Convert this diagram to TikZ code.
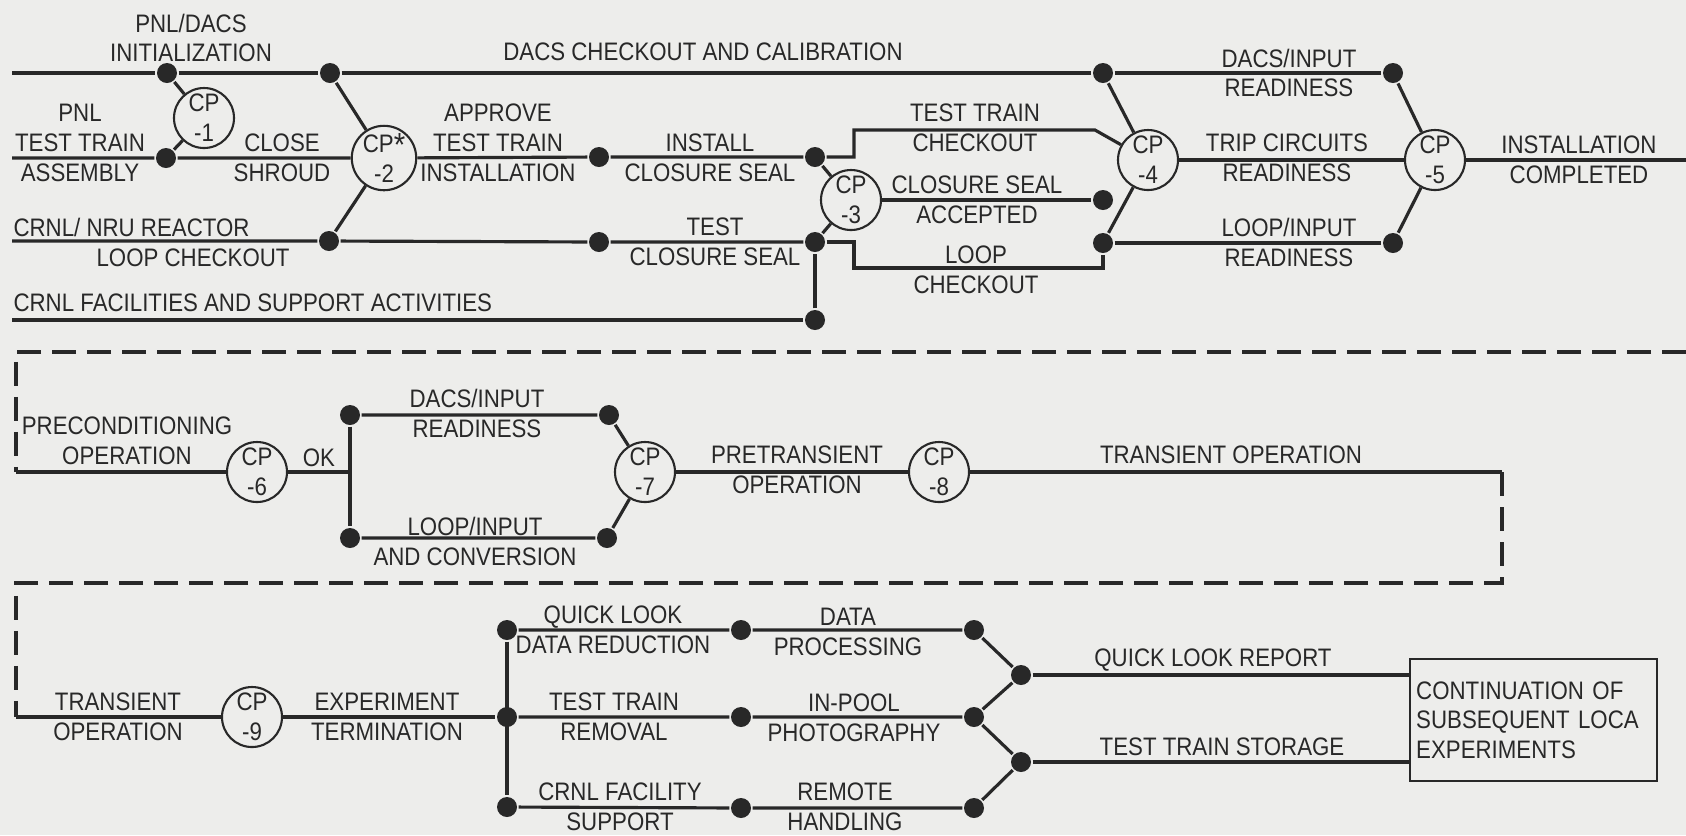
\documentclass[tikz,border=0pt]{standalone}
\usepackage{fontspec}
\newfontfamily\chartfont{Liberation Sans}[FakeStretch=0.88]
\usepackage{tikz}
\definecolor{paper}{RGB}{237,237,235}
\definecolor{ink}{RGB}{40,40,40}

\begin{document}
\begin{tikzpicture}[
  x=0.1mm, y=-0.1mm,
  color=ink, line width=0.9pt,
  txt/.style={font=\chartfont\fontsize{7.2}{8.5}\selectfont, inner sep=0pt, align=center},
  dot/.style={circle, fill=ink, minimum size=2mm, inner sep=0pt},
  cp/.style={txt, circle, draw, line width=0.6pt, fill=paper, minimum size=6mm},
  endbox/.style={txt, draw, line width=0.7pt, align=left, anchor=north west,
                 minimum width=24.7mm, minimum height=12.2mm, text width=23.5mm,
                 inner xsep=0.6mm, inner ysep=1mm},
  dashline/.style={dash pattern=on 2.4mm off 1.1mm},
]
\useasboundingbox[fill=paper] (0,0) rectangle (1686,835);

\coordinate (t0) at (12,73);
\coordinate (m0) at (12,158);
\coordinate (b0) at (12,241);
\coordinate (f0) at (12,320);
\coordinate (out) at (1686,160);
\node[dot] (pnl) at (167,73) {};
\node[dot] (asm) at (166,158) {};
\node[cp] (cp1) at (204,118) {CP\\-1};
\node[dot] (shr) at (330,73) {};
\node[dot] (lck) at (329,241) {};
\node[cp] (cp2) at (384,158) {CP\raisebox{-.3ex}{\fontsize{9.5}{9.5}\selectfont*}\\-2};
\node[dot] (apv) at (599,157) {};
\node[dot] (ins) at (815,157) {};
\node[dot] (tst) at (599,242) {};
\node[dot] (tcs) at (815,242) {};
\node[dot] (fac) at (815,320) {};
\node[cp] (cp3) at (851,200) {CP\\-3};
\node[dot] (acc) at (1103,200) {};
\node[dot] (dac) at (1103,73) {};
\node[dot] (lop) at (1103,243) {};
\node[cp] (cp4) at (1148,160) {CP\\-4};
\node[dot] (dir) at (1393,73) {};
\node[dot] (lir) at (1393,243) {};
\node[cp] (cp5) at (1435,160) {CP\\-5};

\draw (t0) -- (pnl) -- (shr) -- (dac) -- (dir);
\draw (pnl) -- (cp1) -- (asm);
\draw (m0) -- (asm) -- (cp2) -- (apv) -- (ins);
\draw (shr) -- (cp2) -- (lck);
\draw (b0) -- (lck) -- (tst) -- (tcs);
\draw (f0) -- (fac) -- (tcs);
\draw (ins) -- (cp3) -- (tcs);
\draw (cp3) -- (acc);
\draw (ins) -- ++(39,0) -- ++(0,-27) -- ++(241,0) -- (cp4);
\draw (tcs) -- ++(39,0) -- ++(0,26) -| (lop);
\draw (dac) -- (cp4) -- (lop);
\draw (cp4) -- (cp5) -- (out);
\draw (lop) -- (lir);
\draw (dir) -- (cp5) -- (lir);

\node[txt] (l-init) at (191,38) {PNL/DACS\\INITIALIZATION};
\node[txt] (l-cal) at (703,52) {DACS CHECKOUT AND CALIBRATION};
\node[txt] (l-asm) at (80,143) {PNL\\TEST TRAIN\\ASSEMBLY};
\node[txt] (l-shr) at (282,158) {CLOSE\\SHROUD};
\node[txt] (l-apv) at (498,143) {APPROVE\\TEST TRAIN\\INSTALLATION};
\node[txt, anchor=west] (l-nru) at (12,227) {CRNL/ NRU REACTOR};
\node[txt, anchor=west] (l-lck) at (95,258) {LOOP CHECKOUT};
\node[txt, anchor=west] (l-fac) at (12,303) {CRNL FACILITIES AND SUPPORT ACTIVITIES};
\node[txt] (l-ins) at (710,158) {INSTALL\\CLOSURE SEAL};
\node[txt] (l-tst) at (715,242) {TEST\\CLOSURE SEAL};
\node[txt] (l-ttc) at (975,128) {TEST TRAIN\\CHECKOUT};
\node[txt] (l-acc) at (977,200) {CLOSURE SEAL\\ACCEPTED};
\node[txt] (l-lpc) at (976,270) {LOOP\\CHECKOUT};
\node[txt] (l-dir) at (1289,73) {DACS/INPUT\\READINESS};
\node[txt] (l-trc) at (1287,158) {TRIP CIRCUITS\\READINESS};
\node[txt] (l-lir) at (1289,242) {LOOP/INPUT\\READINESS};
\node[txt] (l-cmp) at (1579,160) {INSTALLATION\\COMPLETED};

\coordinate (d1r) at (1686,352);
\coordinate (d1l) at (16,352);
\coordinate (pre) at (16,472);
\coordinate (ok) at (350,472);
\node[cp] (cp6) at (257,472) {CP\\-6};
\node[dot] (dr1) at (350,415) {};
\node[dot] (lc1) at (350,538) {};
\node[dot] (dr2) at (609,415) {};
\node[dot] (lc2) at (607,538) {};
\node[cp] (cp7) at (645,472) {CP\\-7};
\node[cp] (cp8) at (939,472) {CP\\-8};
\coordinate (tr) at (1502,472);
\coordinate (d2r) at (1502,583);
\coordinate (d2l) at (16,583);
\coordinate (tr2) at (16,717);

\draw[dashline] (d1r) -- (d1l) -- (pre);
\draw (pre) -- (cp6) -- (ok);
\draw (dr1) -- (lc1);
\draw (dr1) -- (dr2) -- (cp7) -- (lc2) -- (lc1);
\draw (cp7) -- (cp8) -- (tr);
\draw[dashline] (tr) -- (d2r) -- (d2l) -- (tr2);

\node[txt] (l-pre) at (127,441) {PRECONDITIONING\\OPERATION};
\node[txt, anchor=south] (l-ok) at (319,468) {OK};
\node[txt] (l-dr) at (477,413) {DACS/INPUT\\READINESS};
\node[txt] (l-lc) at (475,541) {LOOP/INPUT\\AND CONVERSION};
\node[txt] (l-ptr) at (797,470) {PRETRANSIENT\\OPERATION};
\node[txt] (l-tro) at (1231,455) {TRANSIENT OPERATION};

\node[cp] (cp9) at (252,717) {CP\\-9};
\node[dot] (qk1) at (507,630) {};
\node[dot] (tt1) at (507,717) {};
\node[dot] (cf1) at (507,807) {};
\node[dot] (qk2) at (741,630) {};
\node[dot] (tt2) at (741,717) {};
\node[dot] (cf2) at (741,808) {};
\node[dot] (qk3) at (974,630) {};
\node[dot] (tt3) at (974,717) {};
\node[dot] (cf3) at (974,808) {};
\node[dot] (rep) at (1021,675) {};
\node[dot] (sto) at (1021,762) {};
\node[endbox] (cont) at (1409,658) {CONTINUATION OF\\SUBSEQUENT LOCA\\EXPERIMENTS};

\draw (tr2) -- (cp9) -- (tt1);
\draw (qk1) -- (cf1);
\draw (qk1) -- (qk2) -- (qk3) -- (rep) -- (tt3);
\draw (tt1) -- (tt2) -- (tt3) -- (sto) -- (cf3);
\draw (cf1) -- (cf2) -- (cf3);
\draw (rep) -- (rep -| cont.west);
\draw (sto) -- (sto -| cont.west);

\node[txt] (l-tro2) at (118,717) {TRANSIENT\\OPERATION};
\node[txt] (l-exp) at (387,717) {EXPERIMENT\\TERMINATION};
\node[txt] (l-qlk) at (613,630) {QUICK LOOK\\DATA REDUCTION};
\node[txt] (l-ttr) at (614,717) {TEST TRAIN\\REMOVAL};
\node[txt] (l-cfs) at (620,807) {CRNL FACILITY\\SUPPORT};
\node[txt] (l-dat) at (848,632) {DATA\\PROCESSING};
\node[txt] (l-pho) at (854,718) {IN-POOL\\PHOTOGRAPHY};
\node[txt] (l-rem) at (845,807) {REMOTE\\HANDLING};
\node[txt] (l-rep) at (1213,660) {QUICK LOOK REPORT};
\node[txt] (l-sto) at (1222,747) {TEST TRAIN STORAGE};
\end{tikzpicture}
\end{document}
